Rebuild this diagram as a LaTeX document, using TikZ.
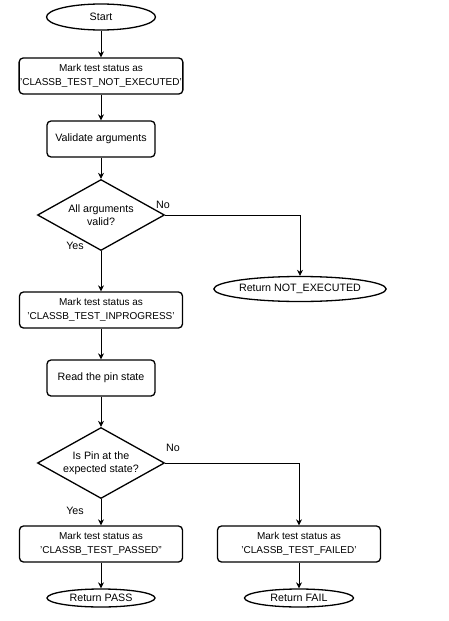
\documentclass[tikz,border=0pt]{standalone}
\usepackage{fontspec}
\setmainfont{Liberation Sans}
\usetikzlibrary{shapes.geometric,arrows.meta}

\begin{document}
\begin{tikzpicture}[x=1pt,y=-1pt,
  big/.style={font=\fontsize{10.7}{12.5}\selectfont},
  small/.style={font=\fontsize{10}{13.3}\selectfont},
  markbox/.style={draw,small,rounded corners=4pt,line width=1.3pt,minimum width=163pt,minimum height=36pt,inner sep=1pt,align=center},
  actbox/.style={draw,big,rounded corners=4pt,line width=1.3pt,minimum width=108pt,minimum height=36pt,inner sep=1pt,align=center},
  term/.style={draw,big,ellipse,line width=1.3pt,inner sep=0pt},
  ask/.style={draw,big,diamond,aspect=1.79,line width=1.3pt,minimum width=127pt,minimum height=71pt,inner sep=0pt,align=center},
  lbl/.style={big},
  arr/.style={-{Stealth[length=6pt,width=6pt]},line width=0.9pt}]
\useasboundingbox (0,0) rectangle (448,621);

\node[term,minimum width=109pt,minimum height=26pt] (start) at (101,17) {Start};
\node[markbox] (mark1) at (101,76) {Mark test status as\\'CLASSB\_TEST\_NOT\_EXECUTED'};
\node[actbox] (valid) at (101,139) {Validate arguments};
\node[ask] (args) at (101,215) {All arguments\\valid?};
\node[term,minimum width=166pt,minimum height=25pt] (notexec) at (300,289) {Return NOT\_EXECUTED};
\node[markbox] (prog) at (101,310) {Mark test status as\\'CLASSB\_TEST\_INPROGRESS'};
\node[actbox] (pin) at (101,378) {Read the pin state};
\node[ask] (pinq) at (101,463) {Is Pin at the\\expected state?};
\node[markbox] (passed) at (101,544) {Mark test status as\\'CLASSB\_TEST\_PASSED''};
\node[markbox] (failed) at (299,544) {Mark test status as\\'CLASSB\_TEST\_FAILED'};
\node[term,minimum width=108pt,minimum height=18pt] (retpass) at (101,598) {Return PASS};
\node[term,minimum width=109pt,minimum height=18pt] (retfail) at (299,598) {Return FAIL};

\node[lbl] (no1) at (163,205) {No};
\node[lbl] (yes1) at (75,246) {Yes};
\node[lbl] (no2) at (173,448) {No};
\node[lbl] (yes2) at (75,511) {Yes};

\draw[arr] (start) -- (mark1);
\draw[arr] (mark1) -- (valid);
\draw[arr] (valid) -- (args);
\draw[arr] (args) -- (prog);
\draw[arr] (args.east) -| (notexec.north);
\draw[arr] (prog) -- (pin);
\draw[arr] (pin) -- (pinq);
\draw[arr] (pinq) -- (passed);
\draw[arr] (pinq.east) -| (failed.north);
\draw[arr] (passed) -- (retpass);
\draw[arr] (failed) -- (retfail);
\end{tikzpicture}
\end{document}
